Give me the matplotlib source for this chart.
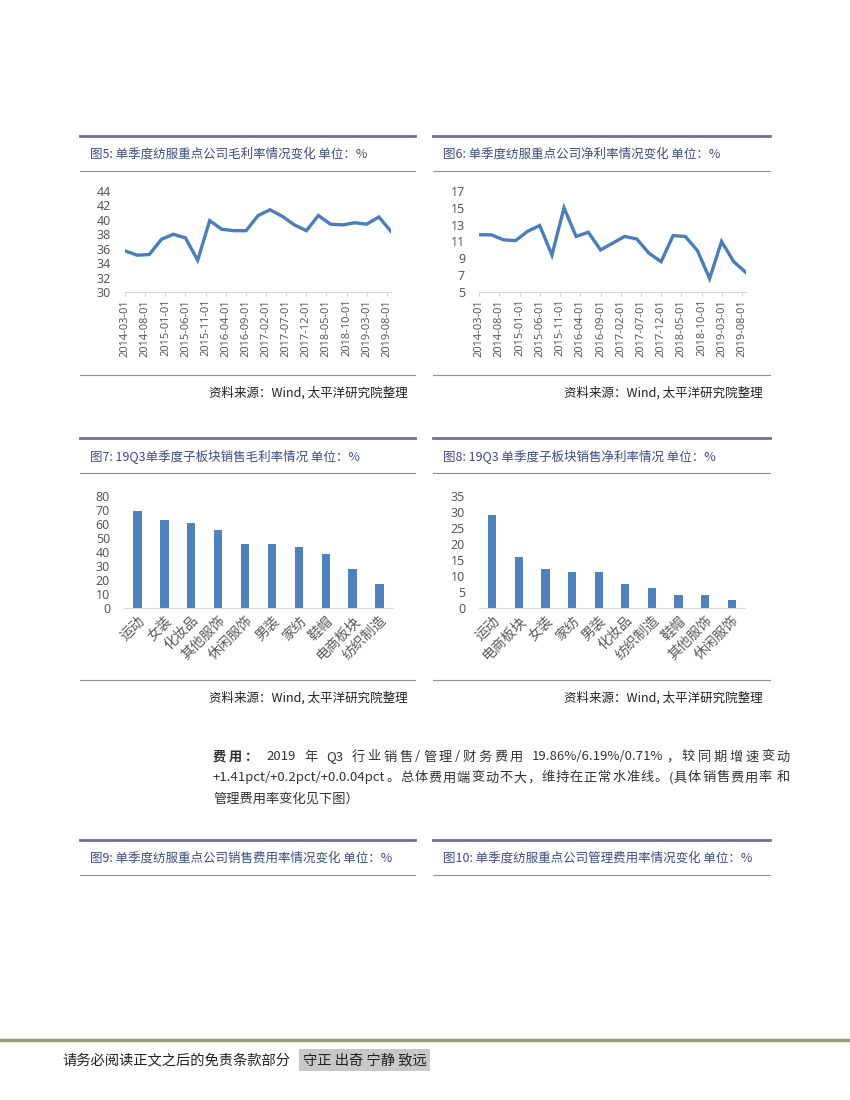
import re
import matplotlib
matplotlib.use("Agg")
import matplotlib.pyplot as plt
import pandas as pd
from matplotlib.lines import Line2D

plt.rcParams['font.family'] = ['Noto Sans CJK SC', 'DejaVu Sans']

# ---------------- data ----------------
quarters = ['2014-03-01', '2014-06-01', '2014-09-01', '2014-12-01',
            '2015-03-01', '2015-06-01', '2015-09-01', '2015-12-01',
            '2016-03-01', '2016-06-01', '2016-09-01', '2016-12-01',
            '2017-03-01', '2017-06-01', '2017-09-01', '2017-12-01',
            '2018-03-01', '2018-06-01', '2018-09-01', '2018-12-01',
            '2019-03-01', '2019-06-01', '2019-09-01']
gross_margin = [35.7, 35.1, 35.2, 37.3, 38.0, 37.5, 34.4, 39.9, 38.7, 38.5, 38.5, 40.6,
                41.4, 40.5, 39.3, 38.5, 40.6, 39.4, 39.3, 39.6, 39.4, 40.4, 38.4]
net_margin = [11.8, 11.8, 11.2, 11.1, 12.2, 12.9, 9.4, 15.0, 11.6, 12.1, 10.0, 10.8,
              11.6, 11.3, 9.6, 8.6, 11.7, 11.6, 9.9, 6.6, 11.0, 8.6, 7.3]
date_ticks = ['2014-03-01', '2014-08-01', '2015-01-01', '2015-06-01', '2015-11-01',
              '2016-04-01', '2016-09-01', '2017-02-01', '2017-07-01', '2017-12-01',
              '2018-05-01', '2018-10-01', '2019-03-01', '2019-08-01']

gm_cats = ['运动', '女装', '化妆品', '其他服饰', '休闲服饰', '男装', '家纺', '鞋帽', '电商板块', '纺织制造']
gm_vals = [69, 63, 61, 55.5, 46, 45.5, 43.5, 38.5, 28, 17]
nm_cats = ['运动', '电商板块', '女装', '家纺', '男装', '化妆品', '纺织制造', '鞋帽', '其他服饰', '休闲服饰']
nm_vals = [29, 16, 12.2, 11.1, 11.1, 7.4, 6.4, 4.2, 4.0, 2.6]

titles = ['图5: 单季度纺服重点公司毛利率情况变化 单位：%',
          '图6: 单季度纺服重点公司净利率情况变化 单位：%',
          '图7: 19Q3单季度子板块销售毛利率情况 单位：%',
          '图8: 19Q3 单季度子板块销售净利率情况 单位：%',
          '图9: 单季度纺服重点公司销售费用率情况变化 单位：%',
          '图10: 单季度纺服重点公司管理费用率情况变化 单位：%']
source = '资料来源：Wind, 太平洋研究院整理'

para_head = '费用：'
para_lines = [
    '2019 年 Q3 行业销售/管理/财务费用 19.86%/6.19%/0.71%，较同期增速变动',
    '+1.41pct/+0.2pct/+0.0.04pct。总体费用端变动不大，维持在正常水准线。(具体销售费用率 和',
    '管理费用率变化见下图）',
]
footer_text = '请务必阅读正文之后的免责条款部分'
motto = '守正 出奇 宁静 致远'

# ---------------- styles ----------------
W, H = 850, 1100
LINE_C = '#4A7EBB'
BAR_C = '#4F81BD'
TICK_C = '#595959'
AX_C = '#D9D9D9'
HEAD_C = '#6E7099'
TITLE_C = '#3E4C82'
NUM_FONT = ['Noto Sans', 'DejaVu Sans']

fig = plt.figure(figsize=(8.5, 11), dpi=100)
renderer = fig.canvas.get_renderer()


def fx(x):
    return x / W


def fy(y):
    return 1 - y / H


def hline(x0, x1, y, lw, color):
    fig.add_artist(Line2D([fx(x0), fx(x1)], [fy(y), fy(y)], lw=lw, color=color,
                          transform=fig.transFigure))


def header(x0, x1, ytop, title):
    hline(x0, x1, ytop, 2.0, HEAD_C)
    fig.text(fx(x0 + 10), fy(ytop + 18), title, fontsize=9, color=TITLE_C,
             va='center', ha='left')
    hline(x0, x1, ytop + 35, 0.8, '#8C8FB0')


def footer_src(x0, x1, y):
    hline(x0, x1, y, 0.8, '#8C8FB0')
    fig.text(fx(x1 - 7), fy(y + 18), source, fontsize=9, color='#222222',
             va='center', ha='right', style='italic')


def axes_px(left, top, right, bottom):
    return fig.add_axes([fx(left), fy(bottom), fx(right - left), (bottom - top) / H])


def style_common(ax):
    for s in ['top', 'right', 'left']:
        ax.spines[s].set_visible(False)
    ax.spines['bottom'].set_color(AX_C)
    ax.spines['bottom'].set_linewidth(0.8)
    ax.tick_params(axis='y', length=0, labelsize=9, labelcolor=TICK_C, pad=10)
    for lab in ax.get_yticklabels():
        lab.set_family(NUM_FONT)


def line_chart(rect, values, ylim, yticks):
    ax = axes_px(*rect)
    x = pd.to_datetime(quarters)
    ax.plot(x, values, color=LINE_C, lw=2.4, solid_joinstyle='miter')
    ax.set_ylim(*ylim)
    ax.set_yticks(yticks)
    ax.set_xlim(pd.Timestamp('2014-03-01'), pd.Timestamp('2019-09-01'))
    tk = pd.to_datetime(date_ticks)
    ax.set_xticks(tk)
    ax.set_xticklabels([t.strftime('%Y-%m-%d') for t in tk], rotation=90,
                       fontsize=8, color=TICK_C, family=NUM_FONT)
    ax.tick_params(axis='x', length=3, color=AX_C, pad=2)
    style_common(ax)
    return ax


def bar_chart(rect, cats, vals, ylim, yticks):
    ax = axes_px(*rect)
    ax.bar(range(len(cats)), vals, width=0.31, color=BAR_C)
    ax.set_xlim(-0.5, len(cats) - 0.5)
    ax.set_ylim(*ylim)
    ax.set_yticks(yticks)
    ax.set_xticks(range(len(cats)))
    ax.set_xticklabels(cats, rotation=45, ha='right', rotation_mode='anchor',
                       fontsize=10, color=TICK_C)
    ax.tick_params(axis='x', length=0, pad=4)
    style_common(ax)
    return ax


def token_width(s, fs, weight):
    if s == ' ':
        return fs * 0.35
    t = fig.text(0, 0, s, fontsize=fs, fontweight=weight)
    w = t.get_window_extent(renderer).width
    t.remove()
    return w


def justified(tokens, x0, x1, y, fs, color='#333333'):
    widths = [token_width(s, fs, wgt) for s, wgt in tokens]
    gaps = len(tokens) - 1
    extra = (x1 - x0 - sum(widths)) / gaps if (x1 is not None and gaps > 0) else 0
    x = x0
    for (s, wgt), w in zip(tokens, widths):
        if s != ' ':
            fig.text(fx(x), fy(y), s, fontsize=fs, fontweight=wgt, color=color,
                     va='center', ha='left')
        x += w + extra


def tokenize(text, weight='normal'):
    return [(t, weight) for t in re.findall(r'[A-Za-z0-9.%+/\-()]+| |.', text)]


# ---------------- panels ----------------
header(80, 415, 136, titles[0])
header(433, 770, 136, titles[1])
line_chart((125, 191, 391, 292), gross_margin, (30, 44), range(30, 45, 2))
line_chart((479, 191, 746, 292), net_margin, (5, 17), range(5, 18, 2))
footer_src(80, 415, 375)
footer_src(433, 770, 375)

header(80, 415, 438, titles[2])
header(433, 770, 438, titles[3])
bar_chart((124, 496, 393, 608), gm_cats, gm_vals, (0, 80), range(0, 81, 10))
bar_chart((479, 496, 745, 608), nm_cats, nm_vals, (0, 35), range(0, 36, 5))
footer_src(80, 415, 680)
footer_src(433, 770, 680)

# ---------------- paragraph ----------------
PFS = 9.5
justified(tokenize(para_head, 'bold') + [(' ', 'normal')] + tokenize(para_lines[0]),
          213, 790, 757, PFS)
justified(tokenize(para_lines[1]), 213, 790, 778, PFS)
fig.text(fx(213), fy(799), para_lines[2], fontsize=PFS, color='#333333',
         va='center', ha='left')

header(80, 415, 840, titles[4])
header(433, 770, 840, titles[5])

# ---------------- footer ----------------
hline(0, 850, 1040, 2.5, '#9C9A6A')
fig.text(fx(62), fy(1060), footer_text, fontsize=10.3,
         color='#222222', va='center', ha='left')
fig.text(fx(303), fy(1060), motto, fontsize=10.3, color='#222222',
         va='center', ha='left',
         bbox=dict(boxstyle='square,pad=0.25', facecolor='#C8C8C8', edgecolor='none'))

fig.savefig('out.png', dpi=100)
